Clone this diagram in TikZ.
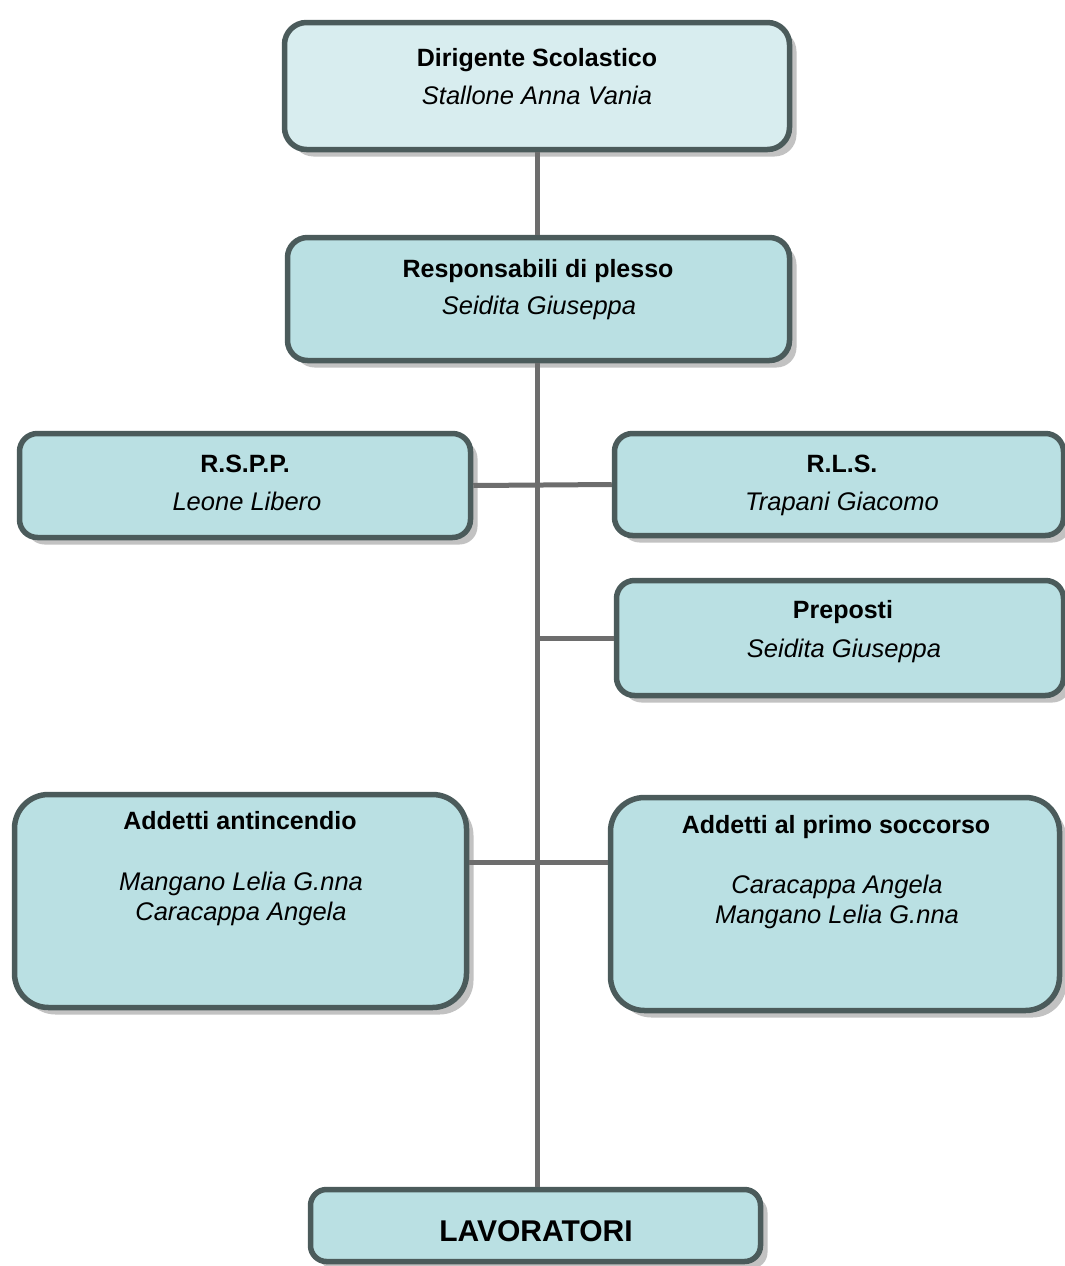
\documentclass[tikz,border=0pt]{standalone}
\usepackage{fontspec}
\setmainfont{Liberation Sans}
\usetikzlibrary{shadows}
\definecolor{boxfill}{HTML}{BAE0E3}
\definecolor{topfill}{HTML}{D8EDEF}
\definecolor{boxline}{HTML}{4B5B5B}
\definecolor{conn}{HTML}{6D6D6D}
\definecolor{shadowc}{HTML}{C2C2C2}
\tikzset{
  orgbox/.style={draw=boxline, line width=5.5pt, fill=boxfill, rounded corners=18pt,
     inner sep=0pt, drop shadow={shadow xshift=7pt, shadow yshift=-7pt, fill=shadowc, opacity=1}},
  bigbox/.style={orgbox, rounded corners=34pt},
  ttl/.style={font=\fontsize{25}{30}\selectfont\bfseries, anchor=base, inner sep=0pt},
  nm/.style={font=\fontsize{25.5}{30}\selectfont\itshape, anchor=base, inner sep=0pt},
  lavt/.style={font=\fontsize{30}{36}\selectfont\bfseries, anchor=base, inner sep=0pt},
  connector/.style={draw=conn, line width=5pt}
}
\begin{document}
\begin{tikzpicture}[x=1pt,y=-1pt]
\useasboundingbox (0,0) rectangle (1065,1266);
% boxes
\node[orgbox, fill=topfill, rounded corners=22pt, minimum width=505pt, minimum height=127pt] (ds) at (537,86) {};
\node[orgbox, rounded corners=20pt, minimum width=502pt, minimum height=123pt] (rp) at (538.5,299) {};
\node[orgbox, minimum width=451pt, minimum height=104pt] (rspp) at (245,485.5) {};
\node[orgbox, minimum width=449pt, minimum height=102pt] (rls) at (839,484.5) {};
\node[orgbox, minimum width=447pt, minimum height=115pt] (prep) at (840,638) {};
\node[bigbox, minimum width=452pt, minimum height=213pt] (anti) at (240.5,901) {};
\node[bigbox, minimum width=449pt, minimum height=213pt] (primo) at (835,904) {};
\node[orgbox, rounded corners=16pt, minimum width=450pt, minimum height=72pt] (lav) at (535.5,1225.5) {};
% connectors
\coordinate (j3) at (537,862);
\draw[connector] (ds.south) -- (ds.south |- rp.north);
\draw[connector] (rp.south -| ds.south) -- (ds.south |- lav.north);
\draw[connector] (rspp.east) -- (rls.west);
\draw[connector] (prep.west) -- (prep.west -| ds.south);
\draw[connector] (anti.east |- j3) -- (primo.west |- j3);
% texts
\node[ttl] (dsT) at (537,66) {Dirigente Scolastico};
\node[nm] (dsN) at (537,104) {Stallone Anna Vania};
\node[ttl] (rpT) at (538,277) {Responsabili di plesso};
\node[nm] (rpN) at (539,314) {Seidita Giuseppa};
\node[ttl] (rsppT) at (245,472) {R.S.P.P.};
\node[nm] (rsppN) at (247,510) {Leone Libero};
\node[ttl] (rlsT) at (842,472) {R.L.S.};
\node[nm] (rlsN) at (842,510) {Trapani Giacomo};
\node[ttl] (prepT) at (843,618) {Preposti};
\node[nm] (prepN) at (844,657) {Seidita Giuseppa};
\node[ttl] (antiT) at (240,829) {Addetti antincendio};
\node[nm] (antiN1) at (241,890) {Mangano Lelia G.nna};
\node[nm] (antiN2) at (241,920) {Caracappa Angela};
\node[ttl] (primoT) at (836,833) {Addetti al primo soccorso};
\node[nm] (primoN1) at (837,893) {Caracappa Angela};
\node[nm] (primoN2) at (837,923) {Mangano Lelia G.nna};
\node[lavt] (lavT) at (536,1241) {LAVORATORI};
\end{tikzpicture}
\end{document}
